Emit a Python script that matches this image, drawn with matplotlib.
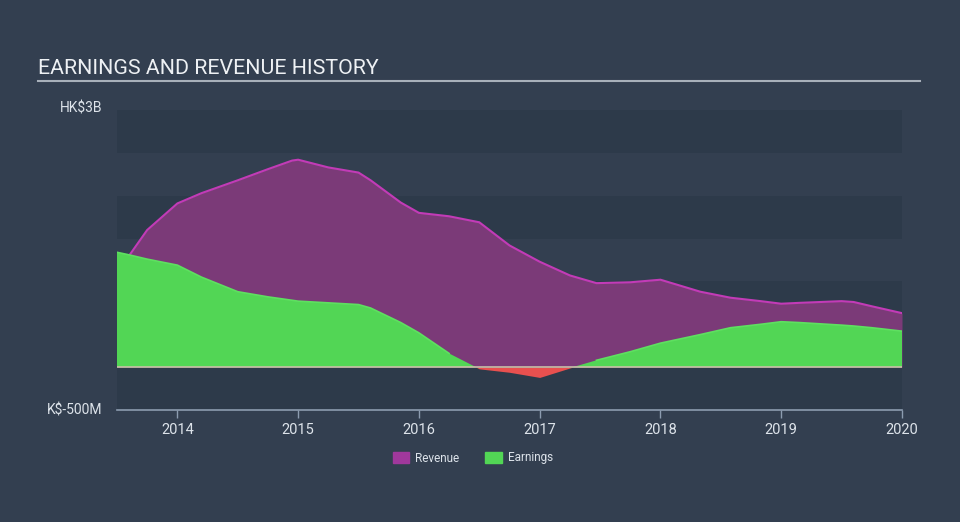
import matplotlib.pyplot as plt
import numpy as np
from matplotlib.patches import Patch

plt.rcParams['font.family'] = ['Roboto', 'DejaVu Sans']

# values, in HK$ billions
years = [2013.5, 2013.6, 2013.75, 2014.0, 2014.2, 2014.5, 2014.75, 2014.95, 2015.0,
         2015.25, 2015.5, 2015.6, 2015.85, 2016.0, 2016.25, 2016.5, 2016.75,
         2017.0, 2017.25, 2017.47, 2017.75, 2018.0, 2018.33, 2018.58, 2018.83,
         2019.0, 2019.15, 2019.5, 2019.6, 2019.75, 2020.0]
revenue = [1.13, 1.30, 1.60, 1.91, 2.03, 2.18, 2.31, 2.41, 2.42,
           2.33, 2.27, 2.18, 1.92, 1.80, 1.76, 1.69, 1.42,
           1.23, 1.07, 0.98, 0.99, 1.02, 0.88, 0.81, 0.77,
           0.74, 0.75, 0.77, 0.76, 0.71, 0.63]
earnings = [1.34, 1.31, 1.26, 1.19, 1.05, 0.88, 0.82, 0.78, 0.77,
            0.75, 0.73, 0.69, 0.52, 0.40, 0.16, -0.02, -0.06,
            -0.12, -0.01, 0.08, 0.18, 0.28, 0.38, 0.46, 0.50,
            0.53, 0.52, 0.49, 0.48, 0.46, 0.42]
xticks = [2014, 2015, 2016, 2017, 2018, 2019, 2020]

bg = '#333f50'
band = '#2d3a4a'
text_col = '#dde3ea'

years = np.array(years)
revenue = np.array(revenue)
earnings = np.array(earnings)

fig = plt.figure(figsize=(9.6, 5.22), dpi=100, facecolor=bg)
ax = fig.add_axes([117 / 960, 1 - 410 / 522, 785 / 960, 300 / 522])
ax.set_facecolor(bg)

# alternating horizontal bands
for lo in [2.5, 1.5, 0.5, -0.5]:
    ax.axhspan(lo, lo + 0.5, color=band, zorder=0, lw=0)

ax.fill_between(years, 0, revenue, color='#7b3a78', lw=0, zorder=2)
ax.plot(years, revenue, color='#c23bb7', lw=1.5, zorder=3, solid_joinstyle='round')
ax.fill_between(years, 0, earnings, where=earnings >= 0, interpolate=True,
                color='#52d655', lw=0, zorder=4)
ax.plot(years, np.where(earnings >= 0, earnings, np.nan), color='#5ee060', lw=1.2, zorder=4)
ax.fill_between(years, 0, earnings, where=earnings <= 0, interpolate=True,
                color='#e8504f', lw=0, zorder=4)
ax.axhline(0, color='#c8c0a8', lw=1.2, zorder=5)

ax.set_xlim(2013.5, 2020.0)
ax.set_ylim(-0.5, 3.0)

ax.set_yticks([])
ax.set_xticks(xticks)
ax.set_xticklabels([str(t) for t in xticks], color=text_col, fontsize=10.5)
ax.tick_params(axis='x', colors='#8c9cb0', labelcolor=text_col, length=6, width=1, pad=3)
for side in ['top', 'right', 'left']:
    ax.spines[side].set_visible(False)
ax.spines['bottom'].set_color('#8c9cb0')
ax.spines['bottom'].set_linewidth(1.2)

fig.text(102 / 960, 1 - 108 / 522, 'HK$3B', ha='right', va='center',
         color=text_col, fontsize=10)
fig.text(102 / 960, 1 - 410 / 522, 'K$-500M', ha='right', va='center',
         color=text_col, fontsize=10)

# title with underline
fig.text(38 / 960, 1 - 68 / 522, 'EARNINGS AND REVENUE HISTORY', ha='left', va='center',
         color='#eef1f4', fontsize=15.4)
fig.add_artist(plt.Line2D([38 / 960, 920 / 960], [1 - 81 / 522, 1 - 81 / 522],
                          color='#a8b0ba', lw=1.5))

handles = [Patch(color='#a0389c', label='Revenue'), Patch(color='#52d655', label='Earnings')]
fig.legend(handles=handles, loc='center', bbox_to_anchor=(473 / 960, 1 - 458 / 522),
           ncol=2, frameon=False, fontsize=8.5, labelcolor=text_col,
           handlelength=1.4, handleheight=1.0, columnspacing=2.2, handletextpad=0.5)

fig.savefig('out.png', dpi=100, facecolor=bg)
